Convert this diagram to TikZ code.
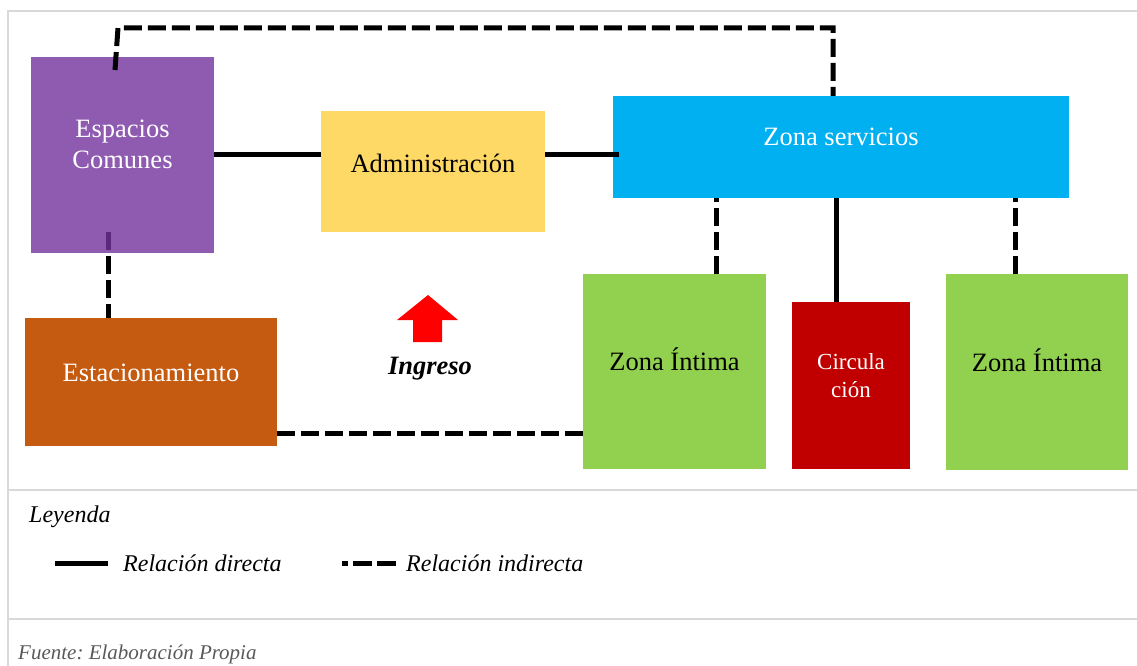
\documentclass[tikz,border=0pt]{standalone}
\usepackage{fontspec}
\setmainfont{Liberation Serif}
\frenchspacing
\pgfdeclarelayer{bg}
\pgfsetlayers{bg,main}
\definecolor{cpurple}{RGB}{114,50,158}
\definecolor{cyellow}{RGB}{255,217,102}
\definecolor{cblue}{RGB}{0,176,240}
\definecolor{corange}{RGB}{197,90,17}
\definecolor{cgreen}{RGB}{146,208,80}
\definecolor{cred}{RGB}{192,0,0}
\definecolor{cframe}{RGB}{217,217,217}
\definecolor{cgraytext}{RGB}{89,89,89}
\begin{document}
\begin{tikzpicture}[x=1pt,y=-1pt,
  box/.style={inner sep=0pt, outer sep=0pt, anchor=north west, draw=none},
  direct/.style={line width=5pt},
  indirect/.style={line width=5pt, dash pattern=on 18pt off 6pt},
  frameline/.style={draw=cframe, line width=1.5pt},
  lbl/.style={font=\fontsize{26.5}{31}\selectfont, align=center, inner sep=0pt, fill opacity=1, text opacity=1},
  legtext/.style={font=\fontsize{24}{28}\selectfont\itshape, anchor=west, inner sep=0pt}]
\useasboundingbox (0,0) rectangle (1137,666);
% frame
\draw[frameline] (1137,11) -- (8,11) -- (8,666);
\draw[frameline] (8,490) -- (1137,490);
\draw[frameline] (8,619) -- (1137,619);
% boxes
\node[box, fill=cpurple, fill opacity=0.8, minimum width=183pt, minimum height=196pt,
  label={[lbl, text=white, yshift=10.5pt]center:{Espacios\\Comunes}}] (esp) at (31,57) {};
\node[box, fill=cyellow, minimum width=224pt, minimum height=121pt,
  label={[lbl, text=black, yshift=8pt]center:{Administración}}] (adm) at (321,111) {};
\node[box, fill=cblue, minimum width=456pt, minimum height=102pt,
  label={[lbl, text=white, yshift=10pt]center:{Zona servicios}}] (zs) at (613,96) {};
\node[box, fill=corange, minimum width=252pt, minimum height=128pt,
  label={[lbl, text=white, yshift=9pt]center:{Estacionamiento}}] (est) at (25,318) {};
\node[box, fill=cgreen, minimum width=183pt, minimum height=195pt,
  label={[lbl, text=black, yshift=12pt]center:{Zona Íntima}}] (zi1) at (583,274) {};
\node[box, fill=cred, minimum width=118pt, minimum height=167pt,
  label={[lbl, font=\fontsize{23}{28}\selectfont, text=white, yshift=9.5pt]center:{Circula\\ción}}] (circ) at (792,302) {};
\node[box, fill=cgreen, minimum width=182pt, minimum height=196pt,
  label={[lbl, text=black, yshift=12pt]center:{Zona Íntima}}] (zi2) at (946,274) {};
% entrance arrow
\fill[red] (428,295) -- (458,320) -- (442,320) -- (442,342) -- (413,342) -- (413,320) -- (397,320) -- cycle;
\node[font=\fontsize{26.5}{31}\selectfont\bfseries\itshape, inner sep=0pt] (ingreso) at (430,369) {Ingreso};
% direct relations
\draw[direct] ([yshift=17.5pt]adm.west) -- ([yshift=17.5pt]adm.west -| esp.east);
\draw[direct] ([yshift=17.5pt]adm.east) -- ([yshift=17.5pt,xshift=6pt]adm.east -| zs.west);
\draw[direct] ([xshift=-15pt]circ.north) -- ([xshift=-15pt]circ.north |- zs.south);
% indirect relations
\draw[indirect] ([xshift=41.5pt]zi1.north) -- ([xshift=41.5pt]zi1.north |- zs.south);
\draw[indirect] ([xshift=-22pt]zi2.north) -- ([xshift=-22pt]zi2.north |- zs.south);
\draw[indirect] ([yshift=-51pt]est.east) -- ([yshift=-51pt]est.east -| zi1.west);
\coordinate (espd) at (108,232);
\begin{pgfonlayer}{bg}
\draw[indirect] (espd) -- (espd |- est.north);
\end{pgfonlayer}
\coordinate (topA) at (115,70);
\coordinate (c1) at (118,28);
\coordinate (c2) at (833,28);
\draw[indirect] (topA) -- (c1) -- (c2) -- (c2 |- zs.north);
% legend
\node[legtext] (ley) at (29,517) {Leyenda};
\coordinate (l1a) at (55,563);
\coordinate (l1b) at (108,563);
\draw[direct] (l1a) -- (l1b);
\node[legtext] (rd) at (123,563) {Relación directa};
\coordinate (l2a) at (342,563);
\coordinate (l2b) at (397,563);
\draw[line width=5pt, dash pattern=on 6pt off 5pt on 19pt off 5pt on 19pt off 5pt] (l2a) -- (l2b);
\node[legtext] (ri) at (406,563) {Relación indirecta};
\node[font=\fontsize{21}{25}\selectfont\itshape, text=cgraytext, anchor=west, inner sep=0pt] (fuente) at (18,654) {Fuente: Elaboración Propia};
\end{tikzpicture}
\end{document}
